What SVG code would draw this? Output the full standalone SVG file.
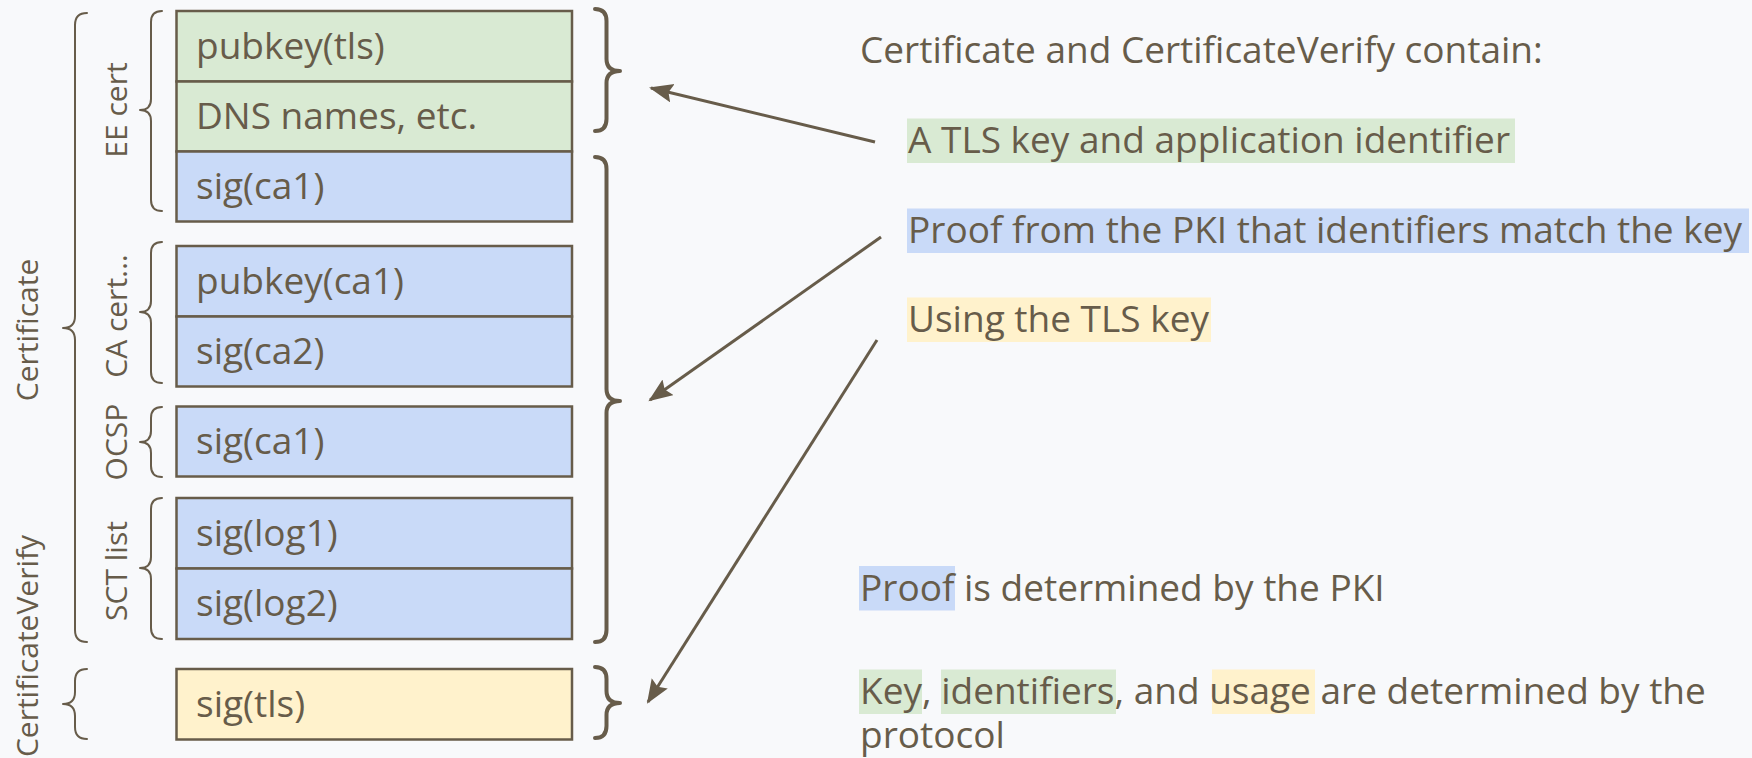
<svg xmlns="http://www.w3.org/2000/svg" width="1752" height="758" viewBox="0 0 1752 758">
  <defs>
    <style>
      .bg { fill: #f8f9fb; }
      .box { stroke: #675c4a; stroke-width: 2.5; }
      .green { fill: #d9ead3; }
      .blue { fill: #c9daf8; }
      .yellow { fill: #fff2cc; }
      .t { font-family: "Open Sans", "Noto Sans", sans-serif; font-size: 37px; fill: #675c4a; }
      .lab { font-family: "Open Sans", "Noto Sans", sans-serif; font-size: 30px; fill: #675c4a; text-anchor: middle; }
      .lbrace { fill: none; stroke: #675c4a; stroke-width: 2; stroke-linecap: round; stroke-linejoin: round; }
      .rbrace { fill: none; stroke: #675c4a; stroke-width: 4; stroke-linecap: round; stroke-linejoin: round; }
      .arrow { fill: none; stroke: #675c4a; stroke-width: 3; marker-end: url(#head); }
    </style>
    <marker id="head" markerUnits="userSpaceOnUse" markerWidth="26" markerHeight="20" refX="22" refY="9.5" orient="auto">
      <path d="M0,0 L24,9.5 L0,19 L4,9.5 z" fill="#675c4a"/>
    </marker>
  </defs>

  <rect class="bg" x="0" y="0" width="1752" height="758"/>

  <!-- message fields -->
  <g id="ee-pubkey">
    <rect class="box green" x="176.5" y="11" width="395.5" height="70.5"/>
    <text class="t" x="196" y="59">pubkey(tls)</text>
  </g>
  <g id="ee-names">
    <rect class="box green" x="176.5" y="81.5" width="395.5" height="70"/>
    <text class="t" x="196" y="129">DNS names, etc.</text>
  </g>
  <g id="ee-sig">
    <rect class="box blue" x="176.5" y="151.5" width="395.5" height="70"/>
    <text class="t" x="196" y="199">sig(ca1)</text>
  </g>
  <g id="ca-pubkey">
    <rect class="box blue" x="176.5" y="246" width="395.5" height="70.5"/>
    <text class="t" x="196" y="294">pubkey(ca1)</text>
  </g>
  <g id="ca-sig">
    <rect class="box blue" x="176.5" y="316.5" width="395.5" height="70"/>
    <text class="t" x="196" y="364">sig(ca2)</text>
  </g>
  <g id="ocsp-sig">
    <rect class="box blue" x="176.5" y="406.5" width="395.5" height="70"/>
    <text class="t" x="196" y="454">sig(ca1)</text>
  </g>
  <g id="sct-log1">
    <rect class="box blue" x="176.5" y="498" width="395.5" height="70.5"/>
    <text class="t" x="196" y="546">sig(log1)</text>
  </g>
  <g id="sct-log2">
    <rect class="box blue" x="176.5" y="568.5" width="395.5" height="70.5"/>
    <text class="t" x="196" y="616">sig(log2)</text>
  </g>
  <g id="cv-sig">
    <rect class="box yellow" x="176.5" y="669" width="395.5" height="70.5"/>
    <text class="t" x="196" y="717">sig(tls)</text>
  </g>

  <!-- left-hand grouping braces and labels -->
  <g id="grp-certificate">
    <path class="lbrace" d="M87,13 Q75,13 75,25 L75,316 Q75,328 63,328 Q75,328 75,340 L75,630 Q75,642 87,642"/>
    <text class="lab" transform="rotate(-90 37.5 330)" x="37.5" y="330">Certificate</text>
  </g>
  <g id="grp-certverify">
    <path class="lbrace" d="M87,669 Q75,669 75,681 L75,692 Q75,704 63,704 Q75,704 75,716 L75,727 Q75,739 87,739"/>
    <text class="lab" transform="rotate(-90 37.5 646)" x="37.5" y="646">CertificateVerify</text>
  </g>
  <g id="grp-ee">
    <path class="lbrace" d="M162,11 Q151,11 151,22 L151,99 Q151,110 140,110 Q151,110 151,121 L151,200 Q151,211 162,211"/>
    <text class="lab" transform="rotate(-90 127 110)" x="127" y="110">EE cert</text>
  </g>
  <g id="grp-ca">
    <path class="lbrace" d="M162,242 Q151,242 151,253 L151,301 Q151,312 140,312 Q151,312 151,323 L151,372 Q151,383 162,383"/>
    <text class="lab" transform="rotate(-90 127 316)" x="127" y="316">CA cert...</text>
  </g>
  <g id="grp-ocsp">
    <path class="lbrace" d="M162,407 Q151,407 151,418 L151,431 Q151,442 140,442 Q151,442 151,453 L151,466 Q151,477 162,477"/>
    <text class="lab" transform="rotate(-90 127 442)" x="127" y="442">OCSP</text>
  </g>
  <g id="grp-sct">
    <path class="lbrace" d="M162,498 Q151,498 151,509 L151,557 Q151,568 140,568 Q151,568 151,579 L151,628 Q151,639 162,639"/>
    <text class="lab" transform="rotate(-90 127 571)" x="127" y="571">SCT list</text>
  </g>

  <!-- right-hand braces -->
  <g id="rb-identity">
    <path class="rbrace" d="M595,9 Q606.5,9 606.5,21 L606.5,59 Q606.5,71 620,71 Q606.5,71 606.5,83 L606.5,119 Q606.5,131 595,131"/>
  </g>
  <g id="rb-proof">
    <path class="rbrace" d="M595,157 Q606.5,157 606.5,169 L606.5,389 Q606.5,401 620,401 Q606.5,401 606.5,413 L606.5,630 Q606.5,642 595,642"/>
  </g>
  <g id="rb-usage">
    <path class="rbrace" d="M595,667 Q606.5,667 606.5,679 L606.5,691 Q606.5,703 620,703 Q606.5,703 606.5,715 L606.5,726 Q606.5,738 595,738"/>
  </g>

  <!-- explanatory notes -->
  <g id="note-heading">
    <text class="t" x="860" y="63">Certificate and CertificateVerify contain:</text>
  </g>
  <g id="note-key">
    <rect class="green" x="907" y="118.5" width="608" height="44.5"/>
    <text class="t" x="908" y="153">A TLS key and application identifier</text>
  </g>
  <g id="note-proof">
    <rect class="blue" x="907" y="208.5" width="842" height="44.5"/>
    <text class="t" x="908" y="243">Proof from the PKI that identifiers match the key</text>
  </g>
  <g id="note-usage">
    <rect class="yellow" x="907" y="297.5" width="304" height="44.5"/>
    <text class="t" x="908" y="332">Using the TLS key</text>
  </g>
  <g id="note-pki">
    <rect class="blue" x="859" y="566" width="96" height="44.5"/>
    <text class="t" x="860" y="601">Proof is determined by the PKI</text>
  </g>
  <g id="note-protocol">
    <rect class="green" x="859" y="669.5" width="63" height="44.5"/>
    <rect class="green" x="941" y="669.5" width="175" height="44.5"/>
    <rect class="yellow" x="1212" y="669.5" width="103" height="44.5"/>
    <text class="t" x="860" y="704">Key, identifiers, and usage are determined by the</text>
    <text class="t" x="860" y="748">protocol</text>
  </g>

  <!-- connectors -->
  <g id="connectors">
    <line class="arrow" x1="875" y1="142" x2="651" y2="88"/>
    <line class="arrow" x1="881" y1="237" x2="650" y2="400"/>
    <line class="arrow" x1="877" y1="340" x2="648" y2="702"/>
  </g>
</svg>
